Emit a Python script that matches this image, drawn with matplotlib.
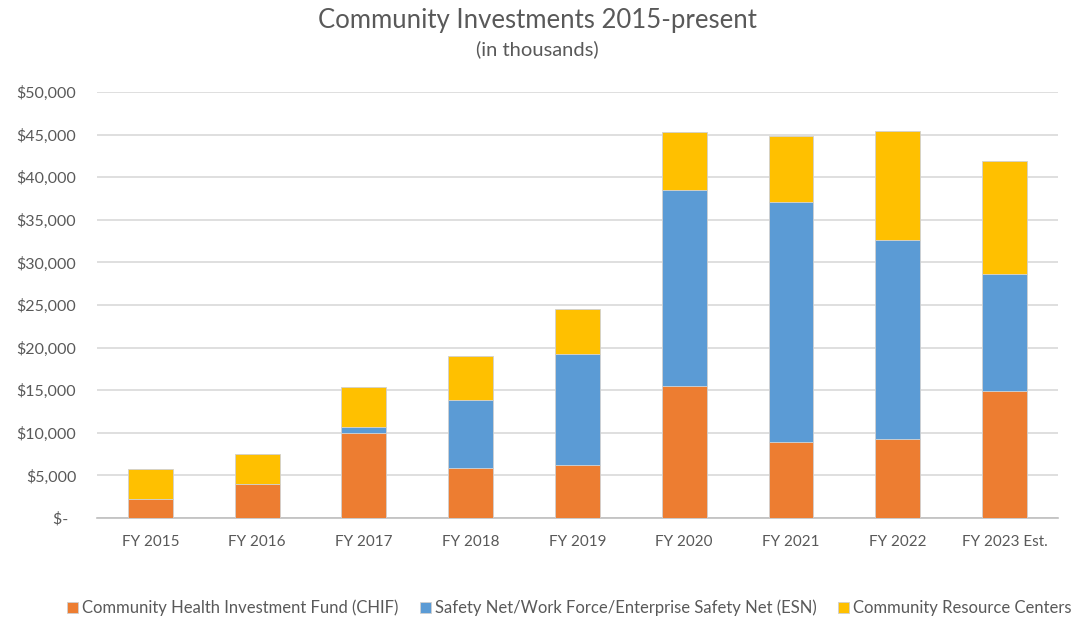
import matplotlib
matplotlib.use("Agg")
import matplotlib.pyplot as plt
from matplotlib.ticker import FuncFormatter
import numpy as np

categories = ["FY 2015", "FY 2016", "FY 2017", "FY 2018", "FY 2019", "FY 2020", "FY 2021", "FY 2022", "FY 2023 Est."]
chif = [2200, 3950, 10000, 5900, 6200, 15500, 8950, 9300, 14900]
esn = [0, 0, 700, 8000, 13000, 23000, 28150, 23300, 13700]
crc = [3600, 3600, 4700, 5150, 5350, 6800, 7700, 12800, 13300]
series_names = ["Community Health Investment Fund (CHIF)",
                "Safety Net/Work Force/Enterprise Safety Net (ESN)",
                "Community Resource Centers"]
colors = ["#ED7D31", "#5B9BD5", "#FFC000"]

plt.rcParams['font.family'] = ['Lato', 'DejaVu Sans']
fig = plt.figure(figsize=(10.74, 6.19), dpi=100)
ax = fig.add_axes([0.0903, 0.163, 0.8947, 0.6884])

x = np.arange(len(categories))
w = 0.42
b1 = np.array(chif)
b2 = b1 + np.array(esn)
ax.bar(x, chif, w, color=colors[0], edgecolor="#d0d0d0", linewidth=0.6, label=series_names[0], zorder=3)
ax.bar(x, esn, w, bottom=b1, color=colors[1], edgecolor="#d0d0d0", linewidth=0.6, label=series_names[1], zorder=3)
ax.bar(x, crc, w, bottom=b2, color=colors[2], edgecolor="#d0d0d0", linewidth=0.6, label=series_names[2], zorder=3)

ax.set_xlim(-0.5, len(categories) - 0.5)
ax.set_ylim(0, 50000)
ax.set_yticks(np.arange(0, 50001, 5000))
ax.yaxis.set_major_formatter(FuncFormatter(lambda v, p: "$-  " if v == 0 else "${:,.0f}".format(v)))
ax.set_xticks(x)
ax.set_xticklabels(categories)
ax.grid(axis="y", color="#d9d9d9", linewidth=1.2, zorder=0)
for s in ["top", "right", "left"]:
    ax.spines[s].set_visible(False)
ax.spines["bottom"].set_color("#bfbfbf")
ax.spines["bottom"].set_linewidth(1.2)
ax.tick_params(axis="both", length=0, colors="#595959")
ax.tick_params(axis="y", pad=15, labelsize=11.5)
ax.tick_params(axis="x", pad=12, labelsize=11)

fig.text(0.5, 0.967, "Community Investments 2015-present", ha="center", va="center", fontsize=18.5, color="#595959")
fig.text(0.5, 0.921, "(in thousands)", ha="center", va="center", fontsize=14.5, color="#595959")

leg = fig.legend(loc="center", bbox_to_anchor=(0.53, 0.018), ncol=3, frameon=False,
                 fontsize=12, handlelength=0.65, handleheight=0.65, handletextpad=0.25, columnspacing=1.3,
                 labelcolor="#595959")

fig.savefig("out.png", dpi=100)
